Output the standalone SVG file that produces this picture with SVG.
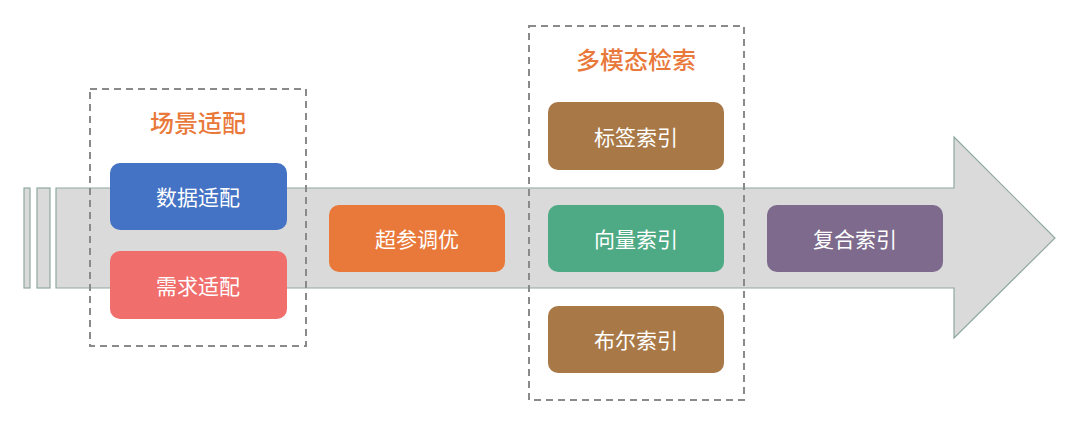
<svg xmlns="http://www.w3.org/2000/svg" width="1080" height="427" viewBox="0 0 1080 427">
<style>
.t{font-family:"Noto Sans CJK SC",sans-serif;font-size:21px;fill:#fff;text-anchor:middle;dominant-baseline:central}
.h{font-family:"Noto Sans CJK SC",sans-serif;font-size:24px;fill:#E9793A;text-anchor:middle;dominant-baseline:central;font-weight:500}
.d{fill:none;stroke:#8a8a8a;stroke-width:2;stroke-dasharray:7 5}
.a{fill:#dadada;stroke:#8fa8a0;stroke-width:1.2}
</style>
<rect width="1080" height="427" fill="#fff"/>
<g id="arrow">
<rect class="a" x="24" y="188" width="6" height="100"/>
<rect class="a" x="37" y="188" width="13" height="100"/>
<polygon class="a" points="56,188 954,188 954,137 1055,238 954,338 954,288 56,288"/>
</g>
<g id="group-scene"><rect class="d" x="90" y="89" width="216" height="257"/><text class="h" x="198" y="121">场景适配</text></g>
<g id="group-multi"><rect class="d" x="529" y="26" width="215" height="374"/><text class="h" x="636" y="58">多模态检索</text></g>
<g id="n1"><rect x="110" y="163" width="177" height="67" rx="10" fill="#4472C4"/><text class="t" x="198" y="196">数据适配</text></g>
<g id="n2"><rect x="110" y="251" width="177" height="68" rx="10" fill="#F06E6C"/><text class="t" x="198" y="285">需求适配</text></g>
<g id="n3"><rect x="329" y="205" width="176" height="67" rx="10" fill="#E9793A"/><text class="t" x="417" y="238">超参调优</text></g>
<g id="n4"><rect x="548" y="102" width="176" height="68" rx="10" fill="#A87947"/><text class="t" x="636" y="136">标签索引</text></g>
<g id="n5"><rect x="548" y="205" width="176" height="67" rx="10" fill="#4EAA84"/><text class="t" x="636" y="238">向量索引</text></g>
<g id="n6"><rect x="548" y="306" width="176" height="67" rx="10" fill="#A87947"/><text class="t" x="636" y="339">布尔索引</text></g>
<g id="n7"><rect x="767" y="205" width="176" height="67" rx="10" fill="#7D6A8C"/><text class="t" x="855" y="238">复合索引</text></g>
<g id="connectors"/>
</svg>
